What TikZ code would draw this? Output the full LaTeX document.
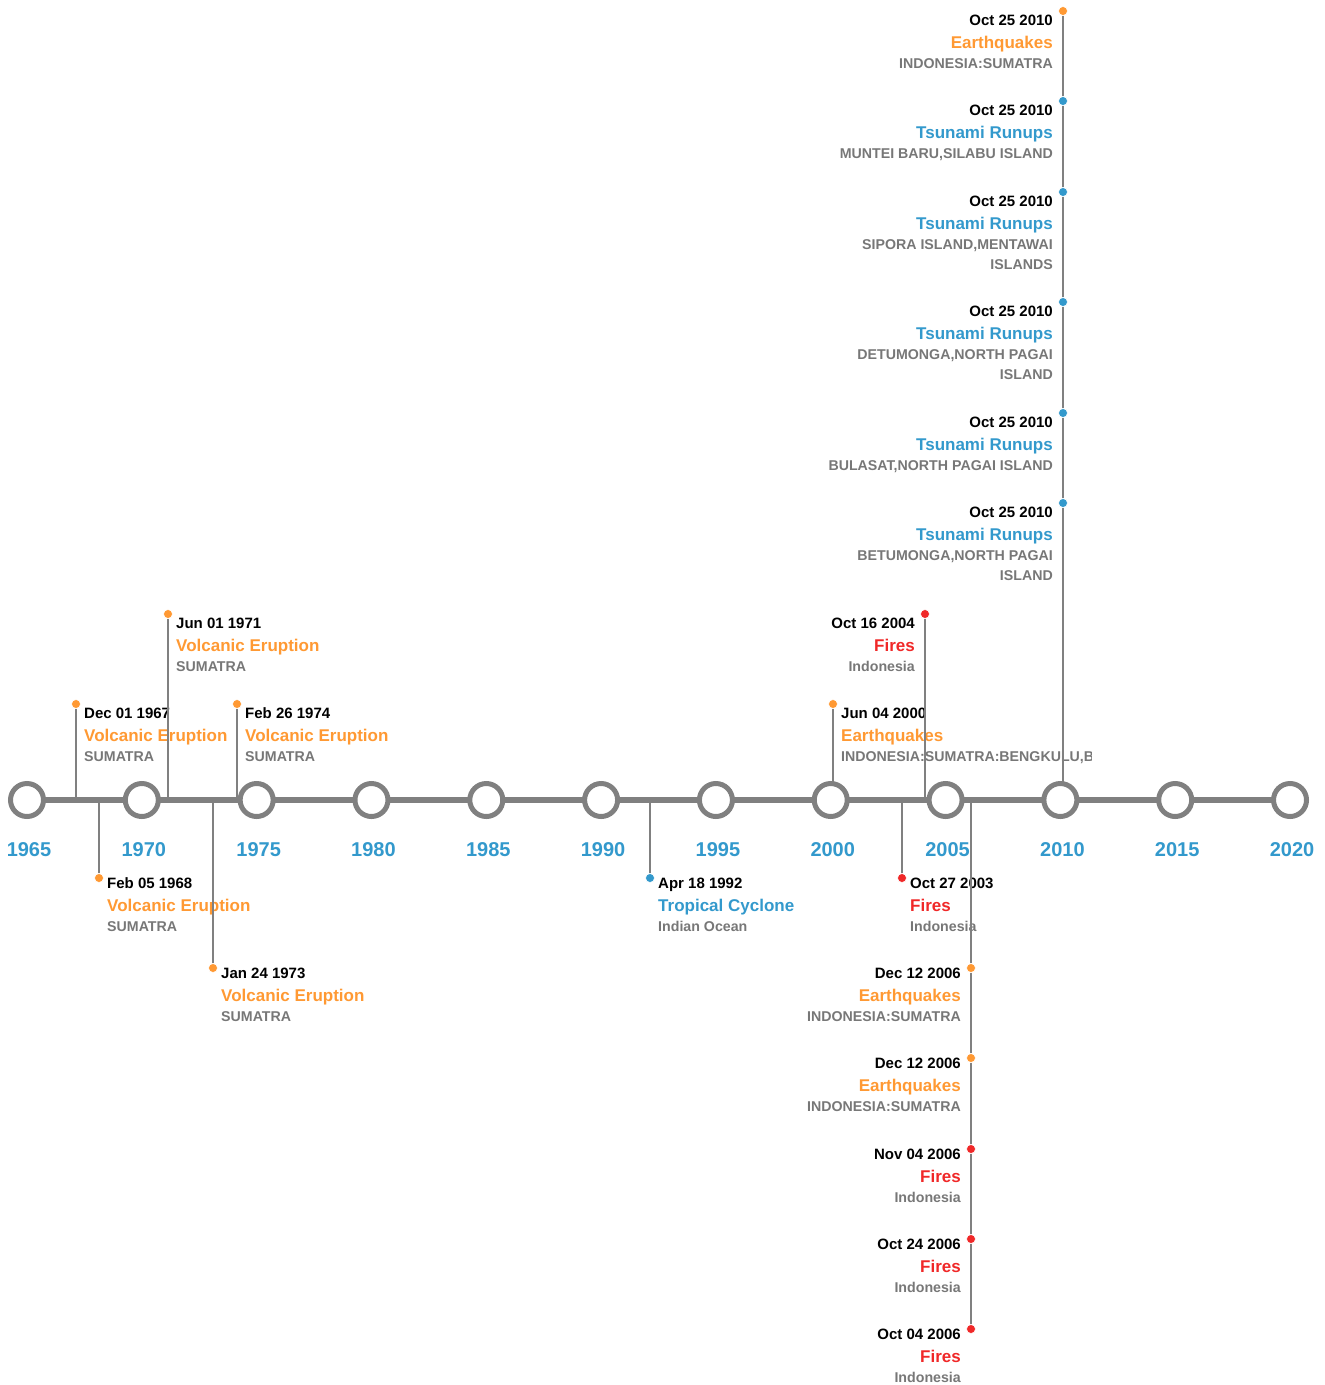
\documentclass[tikz,border=0pt]{standalone}
\usepackage{fontspec}
\setmainfont{Liberation Sans}
\usetikzlibrary{positioning}
\definecolor{evorange}{HTML}{FF9933}
\definecolor{evblue}{HTML}{3399CC}
\definecolor{evred}{HTML}{F02828}
\definecolor{axisgray}{HTML}{808080}
\definecolor{subgray}{HTML}{777777}

% event with its text right of the dot
\newcommand{\evtL}[8]{%
  \node[evdot,fill=#5] (#1) at (#2,#3) {};
  \node[datetext,anchor=base west] (#1d) at (#2+8,#4) {#6};
  \node[titletext,text=#5,anchor=base west] (#1t) at (#2+8,#4+23) {#7};
  \node[subtext,anchor=north west,align=left] (#1s) at (#2+8,#4+33) {#8};
}
% event with its text left of the dot
\newcommand{\evtR}[8]{%
  \node[evdot,fill=#5] (#1) at (#2,#3) {};
  \node[datetext,anchor=base east] (#1d) at (#2-10,#4) {#6};
  \node[titletext,text=#5,anchor=base east] (#1t) at (#2-10,#4+23) {#7};
  \node[subtext,anchor=north east,align=right] (#1s) at (#2-10,#4+33) {#8};
}

\begin{document}
\begin{tikzpicture}[x=1pt, y=-1pt,
  evdot/.style={circle, inner sep=0pt, minimum size=9pt, draw=white, line width=0.6pt},
  stem/.style={axisgray, line width=2pt},
  yearring/.style={circle, draw=axisgray, fill=white, line width=5pt, minimum size=33pt, inner sep=0pt},
  yearlabel/.style={text=evblue, font=\fontsize{20}{24}\selectfont\bfseries, inner sep=0pt},
  datetext/.style={font=\fontsize{15}{18}\selectfont\bfseries, inner sep=0pt},
  titletext/.style={font=\fontsize{17}{20}\selectfont\bfseries, inner sep=0pt},
  subtext/.style={text=subgray, font=\fontsize{14.2}{20}\selectfont\bfseries, inner sep=0pt}]
\useasboundingbox (0,0) rectangle (1325,1385);

% anchor points on the axis
\coordinate (tA1) at (76,800);
\coordinate (tA2) at (168,800);
\coordinate (tA3) at (237,800);
\coordinate (tA4) at (833,800);
\coordinate (tB1) at (925,800);
\coordinate (tK) at (1063,800);
\coordinate (tC1) at (99,800);
\coordinate (tC2) at (213,800);
\coordinate (tC3) at (650,800);
\coordinate (tC4) at (902,800);
\coordinate (tD) at (971,800);

% events above the axis
\evtL{A1}{76}{704}{718}{evorange}{Dec 01 1967}{Volcanic Eruption}{SUMATRA}
\evtL{A2}{168}{614}{628}{evorange}{Jun 01 1971}{Volcanic Eruption}{SUMATRA}
\evtL{A3}{237}{704}{718}{evorange}{Feb 26 1974}{Volcanic Eruption}{SUMATRA}
\begin{scope}
\clip (0,0) rectangle (1091,1385);
\evtL{A4}{833}{704}{718}{evorange}{Jun 04 2000}{Earthquakes}{INDONESIA:SUMATRA:BENGKULU,BENGKULU}
\end{scope}
\evtR{B1}{925}{614}{628}{evred}{Oct 16 2004}{Fires}{Indonesia}
\evtR{K1}{1063}{11}{25}{evorange}{Oct 25 2010}{Earthquakes}{INDONESIA:SUMATRA}
\evtR{K2}{1063}{101}{115}{evblue}{Oct 25 2010}{Tsunami Runups}{MUNTEI BARU,SILABU ISLAND}
\evtR{K3}{1063}{192}{206}{evblue}{Oct 25 2010}{Tsunami Runups}{SIPORA ISLAND,MENTAWAI\\ISLANDS}
\evtR{K4}{1063}{302}{316}{evblue}{Oct 25 2010}{Tsunami Runups}{DETUMONGA,NORTH PAGAI\\ISLAND}
\evtR{K5}{1063}{413}{427}{evblue}{Oct 25 2010}{Tsunami Runups}{BULASAT,NORTH PAGAI ISLAND}
\evtR{K6}{1063}{503}{517}{evblue}{Oct 25 2010}{Tsunami Runups}{BETUMONGA,NORTH PAGAI\\ISLAND}

% events below the axis
\evtL{C1}{99}{878}{888}{evorange}{Feb 05 1968}{Volcanic Eruption}{SUMATRA}
\evtL{C2}{213}{968}{978}{evorange}{Jan 24 1973}{Volcanic Eruption}{SUMATRA}
\evtL{C3}{650}{878}{888}{evblue}{Apr 18 1992}{Tropical Cyclone}{Indian Ocean}
\evtL{C4}{902}{878}{888}{evred}{Oct 27 2003}{Fires}{Indonesia}
\evtR{D1}{971}{968}{978}{evorange}{Dec 12 2006}{Earthquakes}{INDONESIA:SUMATRA}
\evtR{D2}{971}{1058}{1068}{evorange}{Dec 12 2006}{Earthquakes}{INDONESIA:SUMATRA}
\evtR{D3}{971}{1149}{1159}{evred}{Nov 04 2006}{Fires}{Indonesia}
\evtR{D4}{971}{1239}{1249}{evred}{Oct 24 2006}{Fires}{Indonesia}
\evtR{D5}{971}{1329}{1339}{evred}{Oct 04 2006}{Fires}{Indonesia}

% stems
\draw[stem] (tA1) -- (A1);
\draw[stem] (tA2) -- (A2);
\draw[stem] (tA3) -- (A3);
\draw[stem] (tA4) -- (A4);
\draw[stem] (tB1) -- (B1);
\draw[stem] (tK) -- (K6) (K6) -- (K5) (K5) -- (K4) (K4) -- (K3) (K3) -- (K2) (K2) -- (K1);
\draw[stem] (tC1) -- (C1);
\draw[stem] (tC2) -- (C2);
\draw[stem] (tC3) -- (C3);
\draw[stem] (tC4) -- (C4);
\draw[stem] (tD) -- (D1) (D1) -- (D2) (D2) -- (D3) (D3) -- (D4) (D4) -- (D5);

% axis
\draw[axisgray, line width=6pt] (27,800) -- (1290,800);
\foreach \yr [count=\i from 0] in {1965,1970,...,2020} {
  \node[yearring] (c\yr) at (27+114.82*\i,800) {};
  \node[yearlabel, anchor=base] (y\yr) at (29+114.82*\i,856) {\yr};
}
\end{tikzpicture}
\end{document}
